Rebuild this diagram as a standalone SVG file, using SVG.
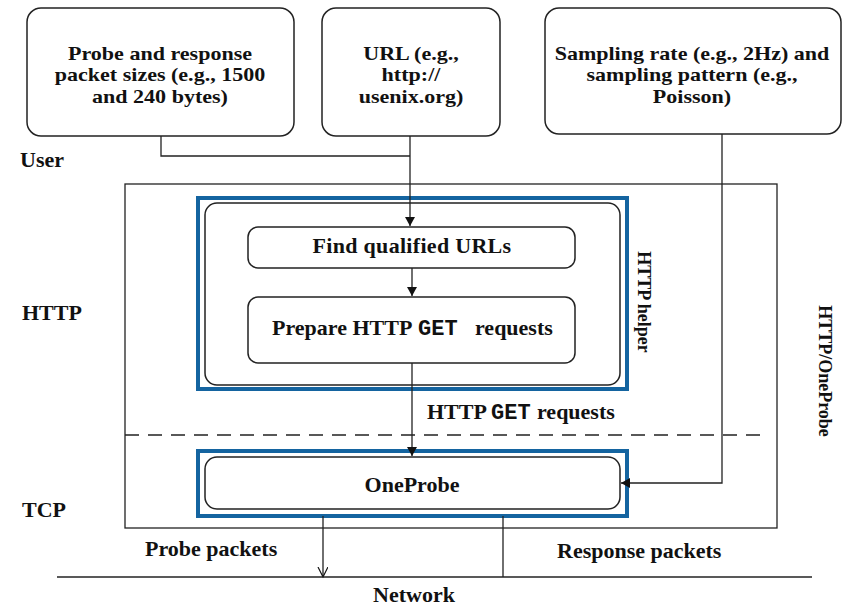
<svg xmlns="http://www.w3.org/2000/svg" width="846" height="608" viewBox="0 0 846 608">
<defs>
<style>
.t{font-family:"Liberation Serif","Times New Roman",serif;font-weight:bold;fill:#111;font-size:22px}
.tb{font-size:19px}
.box{fill:#fff;stroke:#222;stroke-width:1.5}
.ln{fill:none;stroke:#222;stroke-width:1.3}
.blue{fill:none;stroke:#1464a0;stroke-width:4}
.m{font-family:"Liberation Mono","Courier New",monospace;font-weight:bold;font-size:22px}
</style>
<marker id="ah" markerWidth="10" markerHeight="10" refX="9" refY="5" orient="auto" markerUnits="userSpaceOnUse">
<path d="M0,0 L9,5 L0,10 z" fill="#111"/>
</marker>
<marker id="oh" markerWidth="12" markerHeight="12" refX="10" refY="5" orient="auto" markerUnits="userSpaceOnUse">
<path d="M0,0 L10,5 L0,10" fill="none" stroke="#111" stroke-width="1.2"/>
</marker>
</defs>
<rect width="846" height="608" fill="#fff"/>

<g id="outer">
<rect x="125" y="184" width="652" height="344" fill="none" stroke="#222" stroke-width="1.3"/>
<line x1="125" y1="435" x2="768" y2="435" stroke="#222" stroke-width="1.3" stroke-dasharray="14,9"/>
<text class="t" style="font-size:18px" transform="translate(819,371) rotate(90)" text-anchor="middle">HTTP/OneProbe</text>
</g>

<g id="box-sizes">
<rect class="box" x="27" y="8" width="267" height="128" rx="14"/>
<text class="t tb" text-anchor="middle" transform="translate(160,0) scale(1.16,1) translate(-160,0)"><tspan x="160" y="60">Probe and response</tspan><tspan x="160" y="81.5">packet sizes (e.g., 1500</tspan><tspan x="160" y="103">and 240 bytes)</tspan></text>
</g>
<g id="box-url">
<rect class="box" x="322" y="8" width="178" height="128" rx="14"/>
<text class="t tb" text-anchor="middle" transform="translate(411,0) scale(1.16,1) translate(-411,0)"><tspan x="411" y="60">URL (e.g.,</tspan><tspan x="411" y="81.5">http://</tspan><tspan x="411" y="103">usenix.org)</tspan></text>
</g>
<g id="box-sampling">
<rect class="box" x="545" y="8" width="296" height="126" rx="14"/>
<text class="t tb" text-anchor="middle" transform="translate(692,0) scale(1.16,1) translate(-692,0)"><tspan x="692" y="60">Sampling rate (e.g., 2Hz) and</tspan><tspan x="692" y="81.5">sampling pattern (e.g.,</tspan><tspan x="692" y="103">Poisson)</tspan></text>
</g>

<g id="helper">
<rect class="blue" x="198" y="198" width="429" height="191"/>
<rect x="205" y="203" width="415" height="182" rx="12" fill="none" stroke="#222" stroke-width="1.5"/>
<text class="t" style="font-size:18px" transform="translate(638,302) rotate(90)" text-anchor="middle">HTTP helper</text>
</g>
<g id="find">
<rect class="box" x="248" y="227" width="327" height="41" rx="10"/>
<text class="t" x="412" y="253" text-anchor="middle" letter-spacing="0.3">Find qualified URLs</text>
</g>
<g id="prepare">
<rect class="box" x="248" y="297" width="327" height="66" rx="10"/>
<text class="t" y="335"><tspan x="272">Prepare HTTP</tspan><tspan class="m" x="418">GET</tspan><tspan x="475">requests</tspan></text>
</g>

<g id="oneprobe">
<rect class="blue" x="198" y="451" width="429" height="65"/>
<rect class="box" x="205" y="457" width="415" height="52" rx="12"/>
<text class="t" x="412" y="492" text-anchor="middle">OneProbe</text>
</g>

<g id="connectors">
<polyline class="ln" points="161,136 161,156 410,156"/>
<line class="ln" x1="410" y1="136" x2="410" y2="226" marker-end="url(#ah)"/>
<line class="ln" x1="412" y1="268" x2="412" y2="296" marker-end="url(#ah)"/>
<line class="ln" x1="412" y1="363" x2="412" y2="456" marker-end="url(#ah)"/>
<polyline class="ln" points="722,134 722,483 621,483" marker-end="url(#ah)"/>
<line class="ln" x1="323" y1="516" x2="323" y2="577" marker-end="url(#oh)"/>
<line class="ln" x1="503" y1="516" x2="503" y2="577"/>
<line x1="57" y1="577" x2="812" y2="577" stroke="#222" stroke-width="1.5"/>
</g>

<g id="labels">
<text class="t" x="20" y="167">User</text>
<text class="t" x="22" y="320">HTTP</text>
<text class="t" x="22" y="517">TCP</text>
<text class="t" y="419"><tspan x="427">HTTP</tspan><tspan class="m" x="491">GET</tspan><tspan x="537">requests</tspan></text>
<text class="t" x="145" y="556">Probe packets</text>
<text class="t" x="557" y="558">Response packets</text>
<text class="t" x="414" y="602" text-anchor="middle">Network</text>
</g>
</svg>
